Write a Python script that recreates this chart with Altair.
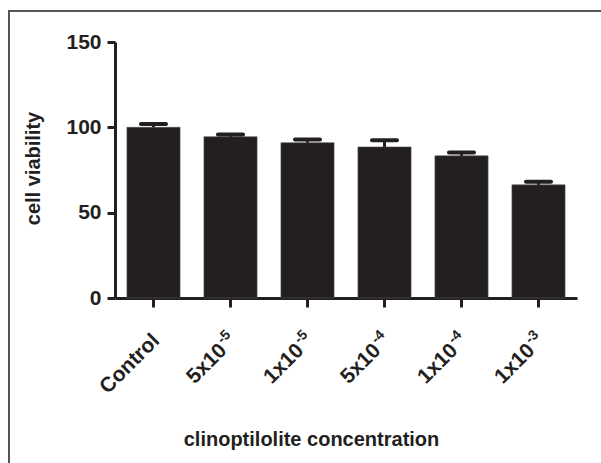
import altair as alt
import pandas as pd

categories = ["Control", "5x10-5", "1x10-5", "5x10-4", "1x10-4", "1x10-3"]
label_base = ["Control", "5x10", "1x10", "5x10", "1x10", "1x10"]
label_sup = ["", "-5", "-5", "-4", "-4", "-3"]
means = [100, 94.5, 91, 88.5, 83.3, 66.3]
upper = [102, 95.8, 92.8, 92.5, 85.3, 68.1]

df = pd.DataFrame(
    {"cat": categories, "base": label_base, "sup": label_sup, "mean": means, "upper": upper}
)

INK = "#231f20"
FONT = "Liberation Sans"

x_enc = alt.X(
    "cat:N",
    sort=categories,
    scale=alt.Scale(paddingInner=0.31, paddingOuter=0.155),
    axis=alt.Axis(
        title="clinoptilolite concentration",
        labels=False,
        tickSize=9,
        tickWidth=3,
        tickColor=INK,
        domainWidth=3,
        domainColor=INK,
        titleFont=FONT,
        titleFontWeight="bold",
        titleFontSize=20,
        titleColor=INK,
        titleX=196,
        titleY=147,
        titleAlign="center",
        titleBaseline="alphabetic",
    ),
)


def y_enc(field):
    return alt.Y(
        f"{field}:Q",
        scale=alt.Scale(domain=[0, 150], nice=False),
        axis=alt.Axis(
            title="cell viability",
            values=[0, 50, 100, 150],
            grid=False,
            labelFont=FONT,
            labelFontWeight="bold",
            labelFontSize=21,
            labelColor=INK,
            labelPadding=6,
            tickSize=8,
            tickWidth=3,
            tickColor=INK,
            domainWidth=3,
            domainColor=INK,
            titleFont=FONT,
            titleFontWeight="bold",
            titleFontSize=20,
            titleColor=INK,
            titleX=-82,
            titleY=126,
            titleAngle=-90,
            titleAlign="center",
            titleBaseline="middle",
        ),
    )


border = alt.Chart(pd.DataFrame({"a": [0]})).mark_rect(
    filled=False, stroke="#555555", strokeWidth=2
).encode(
    x=alt.value(-106), x2=alt.value(600), y=alt.value(-31), y2=alt.value(600)
)

bars = alt.Chart(df).mark_bar(color=INK, stroke="#555152", strokeWidth=0.6).encode(
    x=x_enc, y=y_enc("mean")
)

stem = alt.Chart(df).mark_rule(color=INK, strokeWidth=3).encode(
    x=x_enc, y=y_enc("mean"), y2="upper:Q"
)

cap = alt.Chart(df).mark_tick(
    color=INK, size=29, thickness=4, cornerRadius=2, opacity=1
).encode(x=x_enc, y=y_enc("upper"))

LABEL_Y = 307
text_props = dict(
    angle=315, align="right", baseline="alphabetic", font=FONT, fontWeight="bold", color=INK
)

lab_plain = (
    alt.Chart(df)
    .transform_filter("datum.sup == ''")
    .mark_text(fontSize=21, dx=10, **text_props)
    .encode(x=x_enc, y=alt.value(LABEL_Y), text="base:N")
)

lab_base = (
    alt.Chart(df)
    .transform_filter("datum.sup != ''")
    .mark_text(fontSize=21, dx=-4, **text_props)
    .encode(x=x_enc, y=alt.value(LABEL_Y), text="base:N")
)

lab_sup = (
    alt.Chart(df)
    .transform_filter("datum.sup != ''")
    .mark_text(fontSize=14, dx=10, dy=-9, **text_props)
    .encode(x=x_enc, y=alt.value(LABEL_Y), text="sup:N")
)

chart = (
    alt.layer(border, bars, stem, cap, lab_plain, lab_base, lab_sup)
    .properties(
        width=462,
        height=256,
        padding={"left": 115, "top": 42, "right": 24, "bottom": 165},
        autosize=alt.AutoSizeParams(type="none"),
        background="white",
    )
    .configure_view(strokeWidth=0)
)

chart.save("out.html", embed_options={"renderer": "svg", "actions": False})
